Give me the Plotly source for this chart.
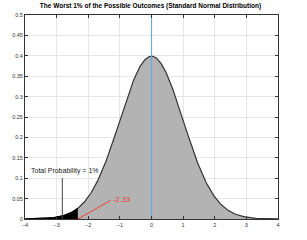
import numpy as np
import plotly.graph_objects as go

x_min, x_max = -4, 4
cutoff = -2.33
mean_line_x = [0, 0]
mean_line_y = [0, 0.5]
marker_x = [-2.82, -2.82]
marker_y = [0, 0.1]
label_line_x = [-2.33, -1.3]
label_line_y = [0, 0.045]
x_ticks = [-4, -3, -2, -1, 0, 1, 2, 3, 4]
y_ticks = [0, 0.05, 0.1, 0.15, 0.2, 0.25, 0.3, 0.35, 0.4, 0.45, 0.5]
title = "The Worst 1% of the Possible Outcomes (Standard Normal Distribution)"
prob_text = "Total Probability = 1%"
cut_text = "-2.33"

xs = np.linspace(x_min, x_max, 401)
pdf = np.exp(-xs**2 / 2) / np.sqrt(2 * np.pi)
xt = np.linspace(x_min, cutoff, 120)
pt = np.exp(-xt**2 / 2) / np.sqrt(2 * np.pi)

fig = go.Figure()
fig.add_trace(go.Scatter(x=xs, y=pdf, fill="tozeroy", fillcolor="#b3b3b3",
                         line=dict(color="#333333", width=1.2), mode="lines", hoverinfo="skip"))
fig.add_trace(go.Scatter(x=xt, y=pt, fill="tozeroy", fillcolor="black",
                         line=dict(color="black", width=1), mode="lines", hoverinfo="skip"))
fig.add_trace(go.Scatter(x=mean_line_x, y=mean_line_y, mode="lines",
                         line=dict(color="#6fa8dc", width=1.2), hoverinfo="skip"))
fig.add_trace(go.Scatter(x=marker_x, y=marker_y, mode="lines",
                         line=dict(color="#444444", width=1), hoverinfo="skip"))
fig.add_trace(go.Scatter(x=label_line_x, y=label_line_y, mode="lines",
                         line=dict(color="#e8403a", width=1), hoverinfo="skip"))

fig.add_annotation(x=-2.75, y=0.117, text=prob_text, showarrow=False,
                   font=dict(family="Liberation Sans, Arial", size=7, color="#222222"),
                   xanchor="center", yanchor="middle")
fig.add_annotation(x=-1.27, y=0.047, text=cut_text, showarrow=False,
                   font=dict(family="Liberation Sans, Arial", size=7.5, color="#e8403a"),
                   xanchor="left", yanchor="middle")

axis_common = dict(showgrid=True, gridcolor="#e6e6e6", gridwidth=1,
                   showline=True, linecolor="#333333", linewidth=1, mirror="ticks",
                   ticks="inside", ticklen=3, tickcolor="#333333", zeroline=False,
                   tickfont=dict(family="Liberation Sans, Arial", size=5.5, color="#333333"))
fig.update_xaxes(range=[x_min, x_max], tickvals=x_ticks, **axis_common)
fig.update_yaxes(range=[0, 0.5], tickvals=y_ticks,
                 ticktext=[("%g" % v) for v in y_ticks], **axis_common)

fig.update_layout(
    width=307, height=240, showlegend=False,
    margin=dict(l=20, r=29, t=15, b=20),
    paper_bgcolor="white", plot_bgcolor="white",
    title=dict(text="<b>" + title + "</b>", x=0.49, xanchor="center", y=0.975, yanchor="middle",
               font=dict(family="Liberation Sans, Arial", size=6.5, color="black")),
)
fig.write_html("out.html")
